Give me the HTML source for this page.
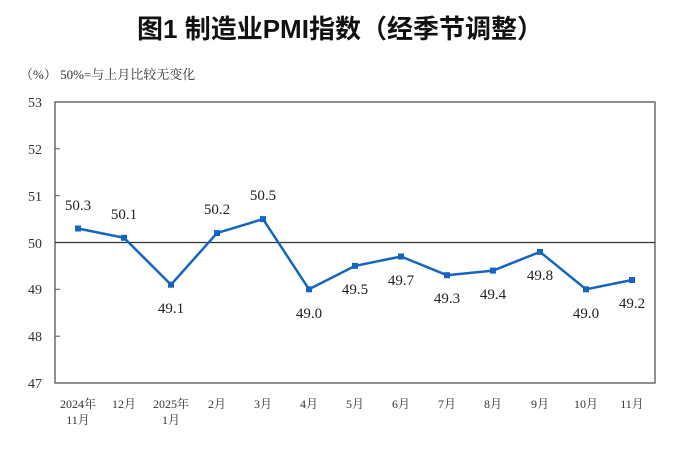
<!DOCTYPE html>
<html><head><meta charset="utf-8"><style>
body{margin:0;background:#fff;}
svg{display:block;}
</style></head><body>
<svg width="680" height="449" viewBox="0 0 680 449" xmlns="http://www.w3.org/2000/svg" font-family="'Liberation Serif','Noto Serif CJK SC',serif">
<text x="340" y="38" text-anchor="middle" font-size="26" font-weight="bold" font-family="'Liberation Sans','Noto Sans CJK SC',sans-serif" fill="#111">图1  制造业PMI指数（经季节调整）</text>
<text x="20" y="79" font-size="13" fill="#333">（%）  50%=与上月比较无变化</text>
<rect x="55" y="102" width="600" height="281" fill="none" stroke="#555" stroke-width="1.3"/>
<line x1="55" y1="242.5" x2="655" y2="242.5" stroke="#333" stroke-width="1.3"/>
<g stroke="#555" stroke-width="1">
<line x1="55" y1="148.8" x2="60" y2="148.8"/><line x1="55" y1="195.7" x2="60" y2="195.7"/>
<line x1="55" y1="289.3" x2="60" y2="289.3"/><line x1="55" y1="336.2" x2="60" y2="336.2"/>
</g>
<g font-size="14" fill="#333" text-anchor="end">
<text x="42" y="107">53</text><text x="42" y="154">52</text><text x="42" y="201">51</text>
<text x="42" y="248">50</text><text x="42" y="294">49</text><text x="42" y="341">48</text><text x="42" y="388">47</text>
</g>
<polyline fill="none" stroke="#1565c0" stroke-width="2.5" points="78,228.5 124,237.8 171,284.7 217,233.1 263,219.1 309,289.3 355,265.9 401,256.5 447,275.2 493,270.6 540,251.9 586,289.3 632,280"/>
<g fill="#1565c0">
<rect x="75" y="225.5" width="6" height="6"/><rect x="121" y="234.8" width="6" height="6"/><rect x="168" y="281.7" width="6" height="6"/><rect x="214" y="230.1" width="6" height="6"/><rect x="260" y="216.1" width="6" height="6"/><rect x="306" y="286.3" width="6" height="6"/><rect x="352" y="262.9" width="6" height="6"/><rect x="398" y="253.5" width="6" height="6"/><rect x="444" y="272.2" width="6" height="6"/><rect x="490" y="267.6" width="6" height="6"/><rect x="537" y="248.9" width="6" height="6"/><rect x="583" y="286.3" width="6" height="6"/><rect x="629" y="277" width="6" height="6"/>
</g>
<g font-size="15" fill="#222" text-anchor="middle">
<text x="78" y="210">50.3</text><text x="124" y="219">50.1</text><text x="171" y="313">49.1</text><text x="217" y="214">50.2</text><text x="263" y="200">50.5</text><text x="309" y="318">49.0</text><text x="355" y="294">49.5</text><text x="401" y="285">49.7</text><text x="447" y="303">49.3</text><text x="493" y="299">49.4</text><text x="540" y="280">49.8</text><text x="586" y="318">49.0</text><text x="632" y="308">49.2</text>
</g>
<g font-size="12" fill="#333" text-anchor="middle">
<text x="78" y="408">2024年</text><text x="78" y="424">11月</text>
<text x="124" y="408">12月</text>
<text x="171" y="408">2025年</text><text x="171" y="424">1月</text>
<text x="217" y="408">2月</text><text x="263" y="408">3月</text><text x="309" y="408">4月</text><text x="355" y="408">5月</text><text x="401" y="408">6月</text><text x="447" y="408">7月</text><text x="493" y="408">8月</text><text x="540" y="408">9月</text><text x="586" y="408">10月</text><text x="632" y="408">11月</text>
</g>
</svg>
</body></html>
